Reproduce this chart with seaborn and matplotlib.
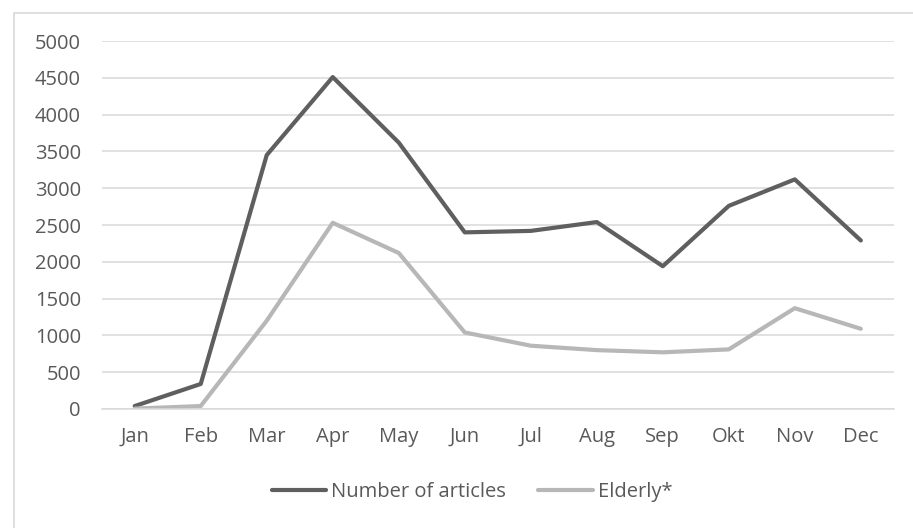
import pandas as pd
import matplotlib.pyplot as plt
import seaborn as sns
from matplotlib.patches import Rectangle

# =================== DATA ===================

months = ['Jan', 'Feb', 'Mar', 'Apr', 'May', 'Jun', 'Jul', 'Aug', 'Sep', 'Okt', 'Nov', 'Dec']
articles = [40, 340, 3450, 4510, 3620, 2400, 2420, 2540, 1940, 2760, 3120, 2290]
elderly = [5, 40, 1200, 2530, 2120, 1040, 860, 800, 770, 810, 1370, 1090]
series_names = ['Number of articles', 'Elderly*']
colors = ['#5f5f5f', '#b7b7b7']

# =================== PLOT ===================

df = pd.DataFrame({'month': months, series_names[0]: articles, series_names[1]: elderly})
df_long = df.melt(id_vars='month', var_name='series', value_name='value')

sns.set_theme(style='whitegrid')
plt.rcParams['font.family'] = ['Open Sans', 'DejaVu Sans']

FS = 14.5

fig = plt.figure(figsize=(9.13, 5.28), dpi=100)
ax = fig.add_axes([0.1114, 0.2254, 0.979 - 0.1114, 0.9223 - 0.2254])

sns.lineplot(data=df_long, x='month', y='value', hue='series', sort=False,
             palette=colors, linewidth=3.0, ax=ax, legend=False)

ax.set_ylim(0, 5000)
ax.set_xlim(-0.5, 11.5)
ax.set_yticks(range(0, 5001, 500))
ax.set_xlabel('')
ax.set_ylabel('')
ax.grid(axis='y', color='#d9d9d9', linewidth=1.1)
ax.grid(axis='x', visible=False)
for side in ['left', 'right', 'top']:
    ax.spines[side].set_visible(False)
ax.spines['bottom'].set_color('#d9d9d9')
ax.spines['bottom'].set_linewidth(1.1)
ax.tick_params(axis='y', length=0, pad=15, labelsize=FS, labelcolor='#595959')
ax.tick_params(axis='x', length=0, pad=13, labelsize=FS, labelcolor='#595959')

# legend at the bottom
handles = [plt.Line2D([], [], color=c, linewidth=3.0) for c in colors]
fig.legend(handles, series_names, loc='center', bbox_to_anchor=(472 / 913, 1 - 492 / 528),
           ncol=2, frameon=False, fontsize=FS, handlelength=2.7, handletextpad=0.25,
           columnspacing=1.6, labelcolor='#595959')

# chart area border (right/bottom edges fall outside the image)
fig.patches.append(Rectangle((13.5 / 913, -0.1), 1.2, 1 - 13 / 528 + 0.1,
                             transform=fig.transFigure, fill=False,
                             edgecolor='#d9d9d9', linewidth=1.2))

fig.savefig('out.png', dpi=100)
plt.close(fig)
